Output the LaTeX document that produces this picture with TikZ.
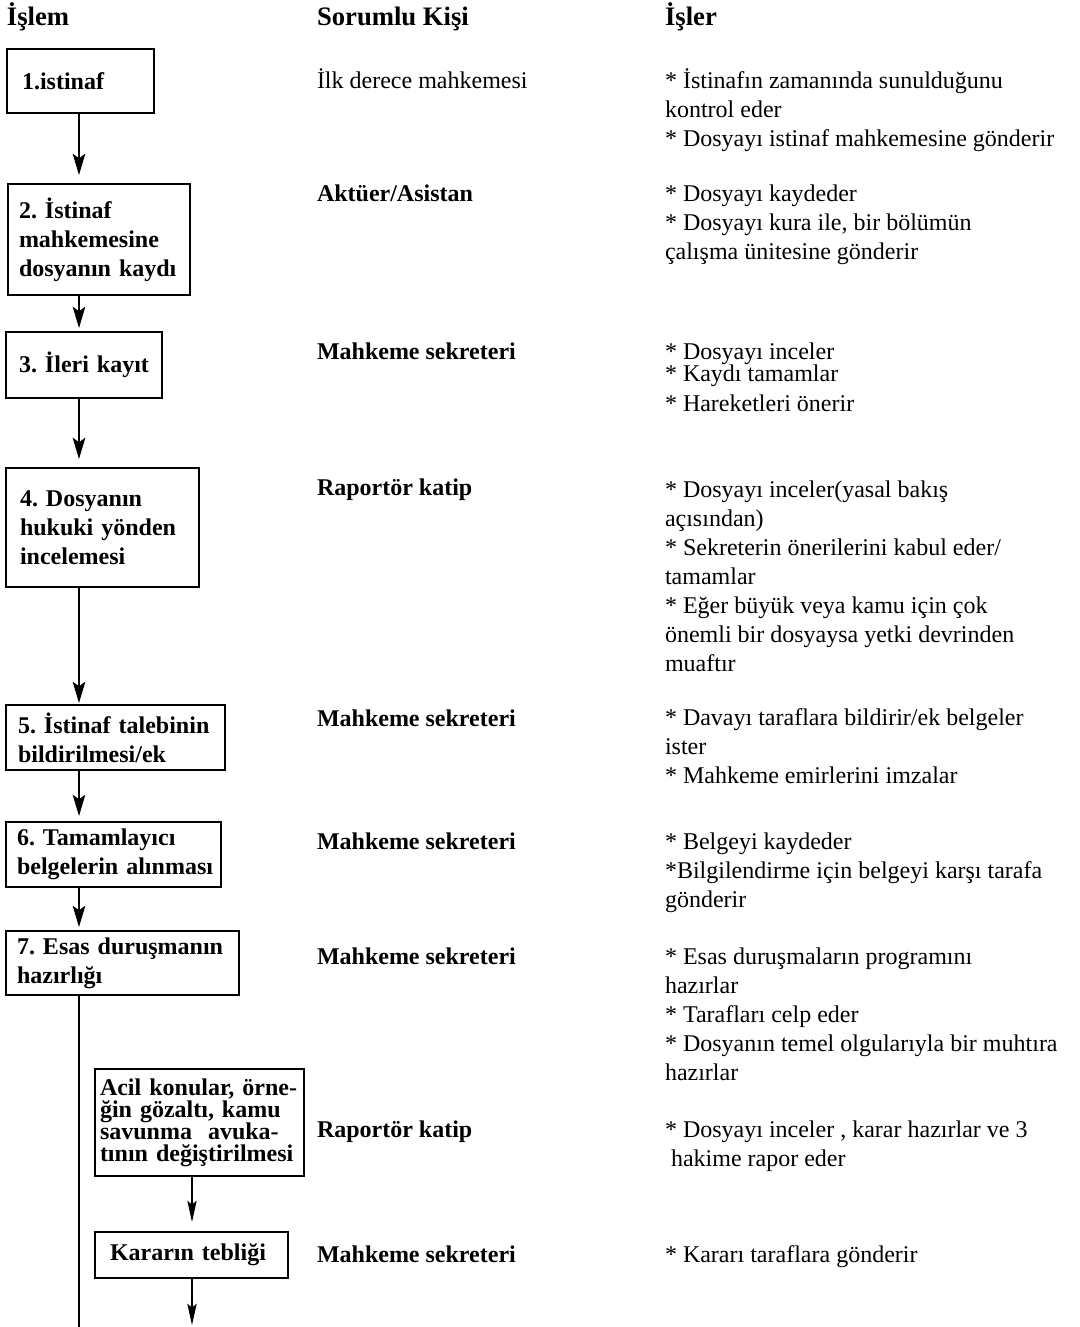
\documentclass[tikz,border=0pt]{standalone}
\usepackage{fontspec}
\setmainfont{Liberation Serif}
\usetikzlibrary{arrows.meta}

% left-aligned multi-line block whose baseline is the first line
\newcommand\colblock[1]{\begin{tabular}[t]{@{}l@{}}#1\end{tabular}}
% a bullet star that is safe right after \\
\newcommand\bul{{*}}

\begin{document}
\begin{tikzpicture}[x=0.75pt,y=-0.75pt,
  every node/.style={inner sep=0pt, outer sep=0pt},
  head/.style={anchor=base west, font=\fontsize{20}{24}\selectfont\bfseries},
  person/.style={anchor=base west, font=\fontsize{18}{21.75}\selectfont\bfseries},
  personreg/.style={anchor=base west, font=\fontsize{18}{21.75}\selectfont},
  tasks/.style={anchor=base west, font=\fontsize{18}{21.75}\selectfont},
  stepbox/.style={draw, line width=0.9pt, align=left, inner ysep=0pt,
    font=\fontsize{18}{21.75}\selectfont\bfseries,
    execute at begin node={\hyphenpenalty=10000\relax\exhyphenpenalty=10000\relax}},
  tightbox/.style={font=\fontsize{18}{16.5}\selectfont\bfseries,
    execute at begin node={\lineskiplimit=-20pt\relax\hyphenpenalty=10000\relax}},
  arr/.style={line width=0.8pt, -{Stealth[length=16pt,width=9.5pt,inset=3.5pt]}},
  arrsmall/.style={line width=0.8pt, -{Stealth[length=16pt,width=7pt,inset=3pt]}},
  spineline/.style={line width=0.8pt}
]
\useasboundingbox (0,0) rectangle (1079,1327);

% column headings
\node[head] (hA) at (7,26) {İşlem};
\node[head] (hB) at (317,26) {Sorumlu Kişi};
\node[head] (hC) at (665,26) {İşler};

% process steps
\node[stepbox, inner xsep=11.25pt, text width=87.75pt, minimum height=48pt] (b1) at (80.5,81) {1.istinaf};
\node[stepbox, inner xsep=8.25pt, text width=120pt, minimum height=83.25pt] (b2) at (99,239.5)
  {2.~İstinaf\\ mahkemesine\\ dosyanın~kaydı};
\node[stepbox, inner xsep=9.75pt, text width=97.5pt, minimum height=49.5pt] (b3) at (84,365) {3.~İleri~kayıt};
\node[stepbox, inner xsep=10.5pt, text width=123.75pt, minimum height=89.25pt] (b4) at (102.5,527.5)
  {4.~Dosyanın\\ hukuki~yönden\\ incelemesi};
\node[stepbox, inner xsep=9pt, text width=146.25pt, minimum height=48.75pt] (b5) at (115.5,737.5)
  {5.~İstinaf~talebinin\\ bildirilmesi/ek};
\node[stepbox, inner xsep=8.25pt, text width=144.75pt, minimum height=48.75pt] (b6) at (113.5,854.5)
  {6.~Tamamlayıcı\\ belgelerin~alınması};
\node[stepbox, inner xsep=8.25pt, text width=158.25pt, minimum height=48pt] (b7) at (122.5,963)
  {7.~Esas~duruşmanın\\ hazırlığı};
\node[stepbox, tightbox, inner xsep=3.75pt, text width=149.25pt, minimum height=80.25pt] (b8) at (199.5,1122.5)
  {Acil~konular,~örne-\\ ğin~gözaltı,~kamu\\ savunma~~avuka-\\ tının~değiştirilmesi};
\node[stepbox, inner xsep=11.25pt, text width=122.25pt, minimum height=34.5pt] (b9) at (191.5,1255)
  {Kararın~tebliği};

% responsible persons
\node[personreg] (p1) at (317,89) {İlk derece mahkemesi};
\node[person] (p2) at (317,201) {Aktüer/Asistan};
\node[person] (p3) at (317,359) {Mahkeme sekreteri};
\node[person] (p4) at (317,495) {Raportör katip};
\node[person] (p5) at (317,726) {Mahkeme sekreteri};
\node[person] (p6) at (317,849) {Mahkeme sekreteri};
\node[person] (p7) at (317,964) {Mahkeme sekreteri};
\node[person] (p8) at (317,1137) {Raportör katip};
\node[person] (p9) at (317,1262) {Mahkeme sekreteri};

% tasks
\node[tasks] (t1) at (665,89) {\colblock{\bul{} İstinafın zamanında sunulduğunu\\ kontrol eder\\ \bul{} Dosyayı istinaf mahkemesine gönderir}};
\node[tasks] (t2) at (665,201) {\colblock{\bul{} Dosyayı kaydeder\\ \bul{} Dosyayı kura ile, bir bölümün\\ çalışma ünitesine gönderir}};
\node[tasks] (t3) at (665,359) {\colblock{\bul{} Dosyayı inceler\\[-5pt] \bul{} Kaydı tamamlar\\[0.75pt] \bul{} Hareketleri önerir}};
\node[tasks] (t4) at (665,497) {\colblock{\bul{} Dosyayı inceler(yasal bakış\\ açısından)\\ \bul{} Sekreterin önerilerini kabul eder/\\ tamamlar\\ \bul{} Eğer büyük veya kamu için çok\\ önemli bir dosyaysa yetki devrinden\\ muaftır}};
\node[tasks] (t5) at (665,725) {\colblock{\bul{} Davayı taraflara bildirir/ek belgeler\\ ister\\ \bul{} Mahkeme emirlerini imzalar}};
\node[tasks] (t6) at (665,849) {\colblock{\bul{} Belgeyi kaydeder\\ \bul{}Bilgilendirme için belgeyi karşı tarafa\\ gönderir}};
\node[tasks] (t7) at (665,964) {\colblock{\bul{} Esas duruşmaların programını\\ hazırlar\\ \bul{} Tarafları celp eder\\ \bul{} Dosyanın temel olgularıyla bir muhtıra\\ hazırlar}};
\node[tasks] (t8) at (665,1137) {\colblock{\bul{} Dosyayı inceler , karar hazırlar ve 3\\ \ hakime rapor eder}};
\node[tasks] (t9) at (665,1262) {\bul{} Kararı taraflara gönderir};

% flow lines
\coordinate (spine) at (79,0);
\coordinate (spineend) at (79,1327);
\coordinate (sub) at (192,0);
\coordinate (subend) at (192,1325);

\draw[arr, shorten >=6.75pt] (b1.south -| spine) -- (b2.north -| spine);
\draw[arr, shorten >=3pt] (b2.south -| spine) -- (b3.north -| spine);
\draw[arr, shorten >=6.75pt] (b3.south -| spine) -- (b4.north -| spine);
\draw[arr, shorten >=1.5pt] (b4.south -| spine) -- (b5.north -| spine);
\draw[arr, shorten >=4.5pt] (b5.south -| spine) -- (b6.north -| spine);
\draw[arr, shorten >=3pt] (b6.south -| spine) -- (b7.north -| spine);
\draw[spineline] (b7.south -| spine) -- (spineend);
\draw[arrsmall, shorten >=7.5pt] (b8.south -| sub) -- (b9.north -| sub);
\draw[arrsmall] (b9.south -| sub) -- (subend);
\end{tikzpicture}
\end{document}
